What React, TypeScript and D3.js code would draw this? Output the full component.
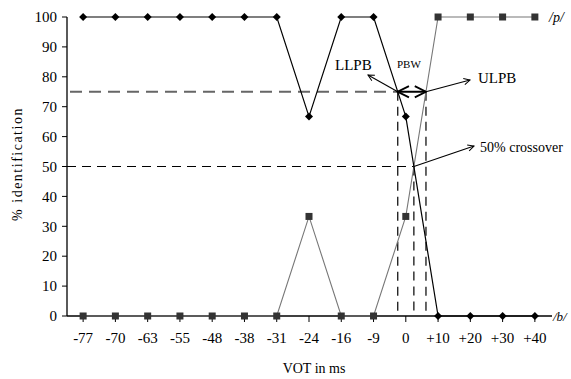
import * as d3 from "d3";

const CATEGORIES = ["-77", "-70", "-63", "-55", "-48", "-38", "-31", "-24", "-16", "-9", "0", "+10", "+20", "+30", "+40"];
const P_IDENT = [100, 100, 100, 100, 100, 100, 100, 66.7, 100, 100, 66.7, 0, 0, 0, 0];
const B_IDENT = [0, 0, 0, 0, 0, 0, 0, 33.3, 0, 0, 33.3, 100, 100, 100, 100];
const Y_TICKS = [0, 10, 20, 30, 40, 50, 60, 70, 80, 90, 100];

const W = 571, H = 379;
const FONT = "'Liberation Serif', 'Times New Roman', serif";

export default function App() {
  const x = d3.scalePoint<string>().domain(CATEGORIES).range([67, 551]).padding(0.5);
  const y = d3.scaleLinear().domain([0, 100]).range([316, 17]);
  const px = (i: number) => x(CATEGORIES[i]) as number;

  const line = d3.line<number>().x((_, i) => px(i)).y(d => y(d));

  // where a series crosses a level between point i and i+1
  const cross = (s: number[], level: number, i: number) => {
    const t = (s[i] - level) / (s[i] - s[i + 1]);
    return px(i) + t * (px(i + 1) - px(i));
  };
  const llpb = cross(P_IDENT, 75, 9);
  const ulpb = cross(B_IDENT, 75, 10);
  const mid = cross(P_IDENT, 50, 10);
  const y75 = y(75), y50 = y(50), y0 = y(0);

  const diamond = (cx: number, cy: number) => `M${cx},${cy - 4}L${cx + 4},${cy}L${cx},${cy + 4}L${cx - 4},${cy}Z`;

  return (
    <svg width={W} height={H} style={{ position: "absolute", left: 0, top: 0, background: "#fff" }} fontFamily={FONT}>
      <defs>
        <marker id="arr" viewBox="0 0 10 10" refX="9" refY="5" markerWidth="7" markerHeight="7" orient="auto-start-reverse">
          <path d="M1,1L9,5L1,9" fill="none" stroke="#000" strokeWidth="1.3" />
        </marker>
      </defs>

      {/* reference lines */}
      <line x1={70} x2={llpb} y1={y75} y2={y75} stroke="#666" strokeWidth={2} strokeDasharray="12,7" />
      <line x1={67} x2={mid} y1={y50} y2={y50} stroke="#000" strokeWidth={1} strokeDasharray="9,6" />
      <line x1={llpb} x2={llpb} y1={y75} y2={y0} stroke="#000" strokeWidth={1.2} strokeDasharray="9,6" />
      <line x1={mid} x2={mid} y1={y50} y2={y0} stroke="#000" strokeWidth={1.2} strokeDasharray="9,6" />
      <line x1={ulpb} x2={ulpb} y1={y75} y2={y0} stroke="#000" strokeWidth={1.2} strokeDasharray="9,6" />

      {/* axes */}
      <line x1={67} x2={67} y1={y(100)} y2={y0} stroke="#000" strokeWidth={1.3} />
      <line x1={67} x2={552} y1={y0} y2={y0} stroke="#000" strokeWidth={1.3} />
      {Y_TICKS.map(t => (
        <g key={t}>
          <line x1={62} x2={67} y1={y(t)} y2={y(t)} stroke="#000" />
          <text x={57} y={y(t)} dy="0.35em" textAnchor="end" fontSize={15}>{t}</text>
        </g>
      ))}
      {CATEGORIES.map(c => (
        <g key={c}>
          <line x1={x(c)} x2={x(c)} y1={y0} y2={y0 + 6} stroke="#000" />
          <text x={x(c)} y={338} dy="0.35em" textAnchor="middle" fontSize={15}>{c}</text>
        </g>
      ))}

      {/* series */}
      <path d={line(B_IDENT) ?? ""} fill="none" stroke="#777" strokeWidth={1.1} />
      <path d={line(P_IDENT) ?? ""} fill="none" stroke="#000" strokeWidth={1.2} />
      {B_IDENT.map((v, i) => (
        <rect key={"b" + i} x={px(i) - 3.5} y={y(v) - 3.5} width={7} height={7} fill="#333" />
      ))}
      {P_IDENT.map((v, i) => (
        <path key={"p" + i} d={diamond(px(i), y(v))} fill="#000" />
      ))}

      {/* annotations */}
      <line x1={llpb} x2={ulpb} y1={y75} y2={y75} stroke="#000" strokeWidth={2} markerStart="url(#arr)" markerEnd="url(#arr)" />
      <line x1={llpb} y1={y75} x2={368} y2={75} stroke="#000" strokeWidth={1.1} markerEnd="url(#arr)" />
      <line x1={ulpb} y1={y75} x2={470} y2={80} stroke="#000" strokeWidth={1.1} markerEnd="url(#arr)" />
      <line x1={mid} y1={y50} x2={474} y2={146} stroke="#000" strokeWidth={1.1} markerEnd="url(#arr)" />
      <text x={335} y={70} fontSize={15}>LLPB</text>
      <text x={397} y={68} fontSize={11}>PBW</text>
      <text x={478} y={83} fontSize={15}>ULPB</text>
      <text x={480} y={152} fontSize={14}>50% crossover</text>
      <text x={549} y={22} fontSize={14} fontStyle="italic">/p/</text>
      <text x={553} y={321} fontSize={13} fontStyle="italic">/b/</text>

      <text transform="translate(22,164) rotate(-90)" textAnchor="middle" fontSize={14} letterSpacing={1.5}>% identification</text>
      <text x={314} y={373} textAnchor="middle" fontSize={14}>VOT in ms</text>
    </svg>
  );
}
